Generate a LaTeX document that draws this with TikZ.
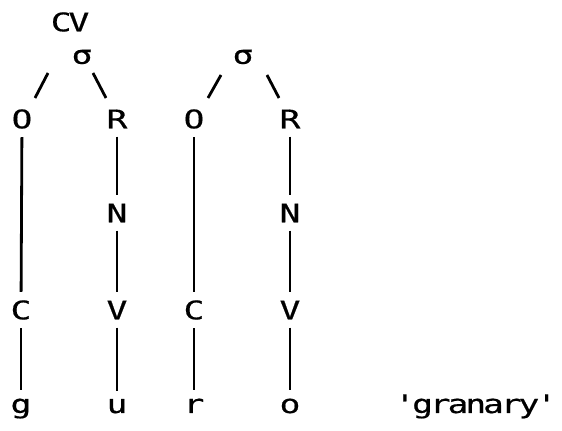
\documentclass[tikz,border=0pt]{standalone}
\usepackage{fontspec}
\newfontfamily\typewriter{DejaVu Sans Mono}[FakeStretch=1.35, FakeBold=0.6, LetterSpace=-12]
\usetikzlibrary{positioning}
\tikzset{
  seg/.style={inner sep=0pt, font=\typewriter\fontsize{12.8}{15}\selectfont},
  stem/.style={line width=1.4pt, shorten >=4pt, shorten <=4pt},
  branch/.style={line width=1.4pt}
}

\begin{document}
\begin{tikzpicture}[x=0.5pt, y=-0.5pt]
  \useasboundingbox (0,0) rectangle (562,431);

  % syllable tiers
  \node[seg] at (70,22)  (cv)   {CV};
  \node[seg] at (82,57)  (sig1) {σ};
  \node[seg] at (243,57) (sig2) {σ};

  \node[seg] at (22,119)  (o1) {O};
  \node[seg] at (117,119) (r1) {R};
  \node[seg] at (194,119) (o2) {O};
  \node[seg] at (290,119) (r2) {R};

  \node[seg] at (117,213) (n1) {N};
  \node[seg] at (290,213) (n2) {N};

  \node[seg] at (21,310)  (c1) {C};
  \node[seg] at (117,310) (v1) {V};
  \node[seg] at (194,310) (c2) {C};
  \node[seg] at (290,310) (v2) {V};

  % segments
  \node[seg, anchor=base] at (21,413)  (g)  {g};
  \node[seg, anchor=base] at (117,413) (u)  {u};
  \node[seg, anchor=base] at (194,413) (r)  {r};
  \node[seg, anchor=base] at (290,413) (o)  {o};
  \node[seg, anchor=base west] at (394,413) (gloss) {'granary'};

  % branches under each sigma
  \draw[branch] ([shift={(13,-21)}]o1.center) -- ++(13,-25);
  \draw[branch] ([shift={(-11,-21)}]r1.center) -- ++(-13,-25);
  \draw[branch] ([shift={(14,-21)}]o2.center) -- ++(13,-23);
  \draw[branch] ([shift={(-11,-21)}]r2.center) -- ++(-12,-23);

  % association lines
  \draw[stem] (o1) -- (c1);
  \draw[stem] (c1) -- (g);
  \draw[stem] (r1) -- (n1);
  \draw[stem] (n1) -- (v1);
  \draw[stem] (v1) -- (u);
  \draw[stem] (o2) -- (c2);
  \draw[stem] (c2) -- (r);
  \draw[stem] (r2) -- (n2);
  \draw[stem] (n2) -- (v2);
  \draw[stem] (v2) -- (o);
\end{tikzpicture}
\end{document}
